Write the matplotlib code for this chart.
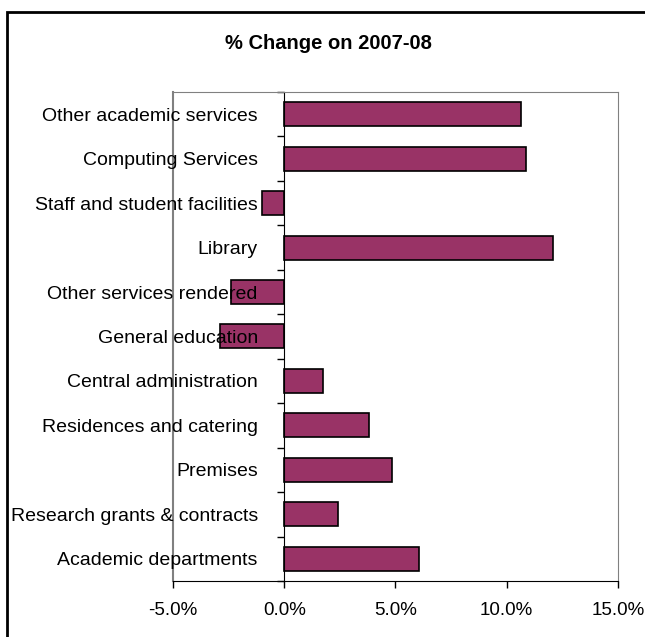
import matplotlib.pyplot as plt
from matplotlib.patches import Rectangle
from matplotlib.ticker import FuncFormatter
import numpy as np

plt.rcParams['font.family'] = ['Liberation Sans', 'DejaVu Sans']

# cost centres, bottom to top
categories = [
    'Academic departments',
    'Research grants & contracts',
    'Premises',
    'Residences and catering',
    'Central administration',
    'General education',
    'Other services rendered',
    'Library',
    'Staff and student facilities',
    'Computing Services',
    'Other academic services',
]
# % change on 2007-08
pct_change = [6.05, 2.43, 4.84, 3.80, 1.73, -2.90, -2.40, 12.09, -1.02, 10.87, 10.65]
x_ticks = [-5, 0, 5, 10, 15]

fig = plt.figure(figsize=(6.45, 6.37), dpi=100)
ax = fig.add_axes([0.2682, 0.0879, 0.6899, 0.7677])

y = np.arange(len(categories))
# bars stay under the axis so the labels print over them
ax.barh(y, pct_change, height=0.54, color='#993366', edgecolor='black', linewidth=1.2, zorder=1)

ax.set_xlim(-5, 15)
ax.set_ylim(-0.5, len(categories) - 0.5)
ax.set_xticks(x_ticks)
ax.xaxis.set_major_formatter(FuncFormatter(lambda v, p: f'{v:.1f}%'))
ax.tick_params(axis='x', direction='out', length=5, width=1, labelsize=13.5, pad=10)

# category labels sit beside the zero line
ax.spines['left'].set_position(('data', 0))
ax.spines['left'].set_color('black')
ax.set_yticks(y)
ax.set_yticklabels(categories)
ax.set_yticks(np.arange(len(categories) + 1) - 0.5, minor=True)
ax.tick_params(axis='y', which='major', length=0, labelsize=14, pad=19)
ax.tick_params(axis='y', which='minor', direction='out', length=5, width=1)

for side in ['top', 'right']:
    ax.spines[side].set_color('#808080')
ax.spines['bottom'].set_color('black')
ax.axvline(-5, color='#808080', linewidth=1.5, clip_on=False, zorder=0.5)

fig.text(0.5085, 0.931, '% Change on 2007-08', ha='center', va='center',
         fontsize=14.5, fontweight='bold')

# chart border
fig.patches.append(Rectangle((7 / 645, -0.1), 1.2, 1 - 12 / 637 + 0.1,
                             transform=fig.transFigure, fill=False,
                             edgecolor='black', linewidth=2))

fig.savefig('out.png', dpi=100)
